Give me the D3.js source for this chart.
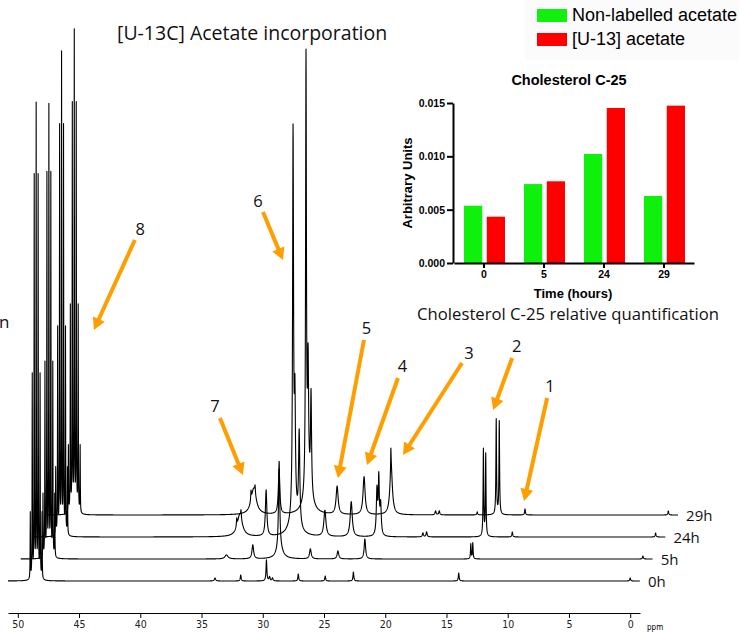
<!DOCTYPE html>
<html>
<head>
<meta charset="utf-8">
<script src="https://cdn.jsdelivr.net/npm/d3@7"></script>
<style>
  body { margin: 0; background: #fff; }
  svg { display: block; }
</style>
</head>
<body>
<div id="chart"></div>
<script>
// stacked 13C spectra, one trace per time point
let traceNames = ["0h", "5h", "24h", "29h"];
// CD3OD septet (solvent), centre and height per trace
let solventPpm = 48.5;
let solventHeight = [471, 448, 478, 478];
let septetOffsets = [-0.48, -0.32, -0.16, 0, 0.16, 0.32, 0.48];
let septetRatios = [0.14, 0.43, 0.85, 1, 0.85, 0.43, 0.14];
// other signals: [ppm, height, half width (ppm)]
let peaks0h = [
  [33.9, 3, 0.06], [31.8, 6, 0.04], [29.7, 21, 0.04], [29.45, 4, 0.05],
  [29.2, 3, 0.05], [27.1, 7, 0.04], [24.9, 5, 0.04], [22.6, 9, 0.04],
  [14.0, 8, 0.04], [0.0, 3, 0.04],
];
let peaks5h = [
  [34.0, 4, 0.15], [31.85, 14, 0.08], [29.7, 88, 0.06], [29.65, 10, 0.3],
  [27.15, 10, 0.08], [24.9, 8, 0.08], [22.7, 20, 0.07],
  [14.05, 15, 0.03], [13.89, 16, 0.03], [0.0, 3, 0.04],
];
let peaks24h = [
  [33.95, 22, 0.25], [34.2, 8, 0.03], [33.85, 8, 0.03], [31.8, 46, 0.07],
  [29.6, 378, 0.045], [29.45, 105, 0.05], [29.1, 92, 0.06], [29.5, 25, 0.35],
  [27.0, 26, 0.1], [24.85, 35, 0.1], [22.75, 45, 0.06], [22.6, 55, 0.05],
  [22.45, 30, 0.06], [19.0, 4, 0.05], [18.7, 5, 0.05],
  [14.06, 87, 0.03], [13.87, 82, 0.03], [11.7, 5, 0.04], [0.0, 4, 0.04],
];
let peaks29h = [
  [33.85, 26, 0.25], [34.07, 10, 0.03], [33.74, 8, 0.03], [31.78, 45, 0.07],
  [29.58, 435, 0.04], [29.41, 120, 0.05], [29.17, 100, 0.05], [29.4, 25, 0.35],
  [27.04, 28, 0.1], [24.84, 38, 0.1], [22.63, 48, 0.12], [22.65, 20, 0.02],
  [19.0, 4, 0.05], [18.7, 4, 0.05], [15.6, 3, 0.04],
  [14.05, 95, 0.03], [13.8, 93, 0.03], [11.7, 6, 0.04], [0.0, 4, 0.04],
];
let tracePeaks = [peaks0h, peaks5h, peaks24h, peaks29h];
let axisMajor = [0, 5, 10, 15, 20, 25, 30, 35, 40, 45, 50];

// numbered signals, pointed at on the 29h trace
let markLabels = ["1", "2", "3", "4", "5", "6", "7", "8"];
let markPpm = [11.77, 14.3, 21.66, 24.6, 26.97, 31.46, 34.73, 46.9];
let markHeight = [14, 105, 60, 50, 37, 255, 40, 185];

// inset bar chart
let timePoints = ["0", "5", "24", "29"];
let seriesNames = ["Non-labelled acetate", "[U-13] acetate"];
let nonLabelled = [0.00537, 0.0074, 0.01022, 0.00628];
let labelled = [0.00434, 0.00766, 0.01453, 0.01475];
let barTicks = [0, 0.005, 0.01, 0.015];

var width = 739,
  height = 632;

let svg = d3
  .select("#chart")
  .append("svg")
  .attr("width", width)
  .attr("height", height);

// ---------- spectra ----------
let x = d3.scaleLinear().domain([50.8, -0.8]).range([8, 640]);
let y = d3.scaleLinear().domain([0, 500]).range([0, 500]);
let traceDx = 12.7,
  traceDy = 22,
  base0 = 581;

function lorentz(p, pk) {
  let d = p - pk[0];
  return (pk[1] * pk[2] * pk[2]) / (d * d + pk[2] * pk[2]);
}

let grid = d3.range(50.8, -0.8, -0.01);

tracePeaks.forEach((list, k) => {
  let all = list.slice();
  septetOffsets.forEach((o, i) =>
    all.push([solventPpm + o, solventHeight[k] * septetRatios[i], 0.015])
  );
  let pts = grid.map((p) => ({
    p: p,
    v: d3.sum(all, (pk) => lorentz(p, pk)),
  }));
  let base = base0 - k * traceDy;
  let line = d3
    .line()
    .x((d) => x(d.p) + k * traceDx)
    .y((d) => base - y(d.v));

  svg
    .append("path")
    .datum(pts)
    .attr("d", line)
    .attr("fill", "none")
    .attr("stroke", "#000")
    .attr("stroke-width", 1.1)
    .attr("stroke-linejoin", "round");

  svg
    .append("text")
    .attr("x", x(-0.8) + k * traceDx + 8)
    .attr("y", base + 6)
    .attr("font-family", "Open Sans")
    .attr("font-size", 15)
    .attr("fill", "#111")
    .text(traceNames[k]);
});

// ppm axis
let axisG = svg.append("g").attr("transform", "translate(0,613)");
axisG
  .call(
    d3.axisBottom(x).tickValues(d3.range(0, 51, 1)).tickSize(3).tickSizeOuter(0).tickFormat("")
  )
  .call((g) => g.select(".domain").remove());
axisG.call(
  d3.axisBottom(x).tickValues(axisMajor).tickSize(5).tickSizeOuter(0).tickPadding(3)
);
axisG
  .selectAll("text")
  .attr("font-family", "DejaVu Sans Condensed, DejaVu Sans")
  .attr("font-size", 10.5)
  .attr("fill", "#222");
svg
  .append("text")
  .attr("x", 647)
  .attr("y", 630)
  .attr("font-family", "DejaVu Sans Condensed, DejaVu Sans")
  .attr("font-size", 8)
  .text("ppm");

// title
svg
  .append("text")
  .attr("x", 117)
  .attr("y", 40)
  .attr("font-family", "Open Sans")
  .attr("font-size", 19.5)
  .attr("fill", "#111")
  .text("[U-13C] Acetate incorporation");

svg
  .append("text")
  .attr("x", -1)
  .attr("y", 328)
  .attr("font-family", "Open Sans")
  .attr("font-size", 17)
  .attr("fill", "#111")
  .text("n");

// arrows
let orange = "#ff9e00";
let tails = [[23, -103], [19, -52], [59, -92], [31, -87], [26, -138], [-20, -48], [-23, -57], [41, -90]];
let top29 = base0 - 3 * traceDy;
markLabels.forEach((lab, i) => {
  let tx = x(markPpm[i]) + 3 * traceDx;
  let ty = top29 - y(markHeight[i]);
  let sx = tx + tails[i][0],
    sy = ty + tails[i][1];
  let len = Math.hypot(tx - sx, ty - sy);
  let ux = (tx - sx) / len,
    uy = (ty - sy) / len;
  let hx = tx - ux * 12,
    hy = ty - uy * 12;
  svg
    .append("line")
    .attr("x1", sx)
    .attr("y1", sy)
    .attr("x2", tx - ux * 8)
    .attr("y2", ty - uy * 8)
    .attr("stroke", orange)
    .attr("stroke-width", 4);
  svg
    .append("path")
    .attr(
      "d",
      `M${tx},${ty}L${hx - uy * 6.5},${hy + ux * 6.5}L${hx + uy * 6.5},${hy - ux * 6.5}Z`
    )
    .attr("fill", orange);
  svg
    .append("text")
    .attr("x", sx - ux * 13)
    .attr("y", sy - uy * 13)
    .attr("text-anchor", "middle")
    .attr("dominant-baseline", "central")
    .attr("font-family", "Open Sans")
    .attr("font-size", 16.5)
    .attr("fill", "#111")
    .text(lab);
});

// ---------- inset bar chart ----------
let green = "#0ff00c",
  red = "#ff0000";
let colors = [green, red];

// legend
svg.append("rect").attr("x", 525).attr("y", 0).attr("width", 214).attr("height", 60).attr("fill", "#fbfbfb");
seriesNames.forEach((s, i) => {
  svg
    .append("rect")
    .attr("x", 537)
    .attr("y", 9 + i * 24)
    .attr("width", 30)
    .attr("height", 13)
    .attr("fill", colors[i]);
  svg
    .append("text")
    .attr("x", 572)
    .attr("y", 21 + i * 24)
    .attr("font-family", "Liberation Sans, Arial")
    .attr("font-size", 18)
    .attr("fill", "#000")
    .text(s);
});

let bx0 = d3.scaleBand().domain(timePoints).range([454, 694]);
let bx1 = d3.scaleBand().domain([0, 1]).range([10, 51]).paddingInner(0.2);
let by = d3.scaleLinear().domain([0, 0.015]).range([263, 103]);

let barG = svg.append("g");
[nonLabelled, labelled].forEach((vals, s) => {
  barG
    .selectAll(".b" + s)
    .data(vals)
    .join("rect")
    .attr("x", (d, i) => bx0(timePoints[i]) + bx1(s))
    .attr("y", (d) => by(d))
    .attr("width", bx1.bandwidth())
    .attr("height", (d) => by(0) - by(d))
    .attr("fill", colors[s]);
});

let boldFont = "Liberation Sans, Arial";
let yAx = svg
  .append("g")
  .attr("transform", "translate(453,0)")
  .call(d3.axisLeft(by).tickValues(barTicks).tickFormat(d3.format(".3f")).tickSize(6).tickSizeOuter(0).tickPadding(2));
let xAx = svg
  .append("g")
  .attr("transform", "translate(0,263)")
  .call(d3.axisBottom(bx0).tickSize(5).tickSizeOuter(0).tickPadding(3));
[yAx, xAx].forEach((g) => {
  g.select(".domain").attr("stroke-width", 2);
  g.selectAll(".tick line").attr("stroke-width", 2);
  g.selectAll("text")
    .attr("font-family", boldFont)
    .attr("font-weight", "bold")
    .attr("font-size", 10.5)
    .attr("fill", "#000");
});

svg
  .append("text")
  .attr("x", 569)
  .attr("y", 85)
  .attr("text-anchor", "middle")
  .attr("font-family", boldFont)
  .attr("font-weight", "bold")
  .attr("font-size", 14.5)
  .text("Cholesterol C-25");
svg
  .append("text")
  .attr("x", 573)
  .attr("y", 298)
  .attr("text-anchor", "middle")
  .attr("font-family", boldFont)
  .attr("font-weight", "bold")
  .attr("font-size", 13)
  .text("Time (hours)");
svg
  .append("text")
  .attr("transform", "translate(412,183) rotate(-90)")
  .attr("text-anchor", "middle")
  .attr("font-family", boldFont)
  .attr("font-weight", "bold")
  .attr("font-size", 13)
  .text("Arbitrary Units");
svg
  .append("text")
  .attr("x", 568)
  .attr("y", 320)
  .attr("text-anchor", "middle")
  .attr("font-family", "Open Sans")
  .attr("font-size", 16.7)
  .attr("fill", "#111")
  .text("Cholesterol C-25 relative quantification");
</script>
</body>
</html>
